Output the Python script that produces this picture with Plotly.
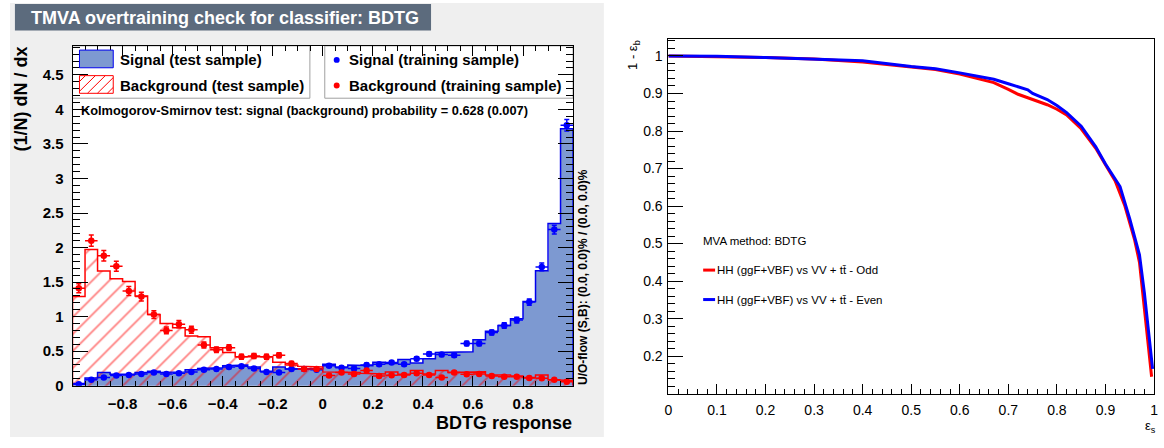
import numpy as np
import plotly.graph_objects as go

W, H = 1164, 448
FONT = "Liberation Sans, Arial, Helvetica, sans-serif"

# ---------------------------------------------------------------------------
# Classifier response histograms (normalised, (1/N) dN/dx)
# ---------------------------------------------------------------------------
resp_min, resp_max, n_bins = -1.0, 1.0, 40

sig_test = [0.03, 0.11, 0.19, 0.165, 0.165, 0.19, 0.21, 0.19, 0.20, 0.23,
            0.25, 0.26, 0.29, 0.30, 0.27, 0.21, 0.27, 0.24, 0.24, 0.25,
            0.31, 0.27, 0.30, 0.29, 0.34, 0.32, 0.38, 0.33, 0.39, 0.48,
            0.49, 0.49, 0.665, 0.79, 0.87, 0.97, 1.22, 1.665, 2.35, 3.72]

sig_train = [0.02, 0.085, 0.12, 0.146, 0.156, 0.17, 0.19, 0.17, 0.18, 0.20,
             0.23, 0.24, 0.27, 0.28, 0.25, 0.20, 0.19, 0.24, 0.24, 0.23,
             0.29, 0.26, 0.25, 0.30, 0.31, 0.335, 0.31, 0.39, 0.46, 0.45,
             0.44, 0.61, 0.61, 0.77, 0.87, 0.95, 1.21, 1.72, 2.26, 3.77]

bkg_test = [1.29, 1.97, 1.66, 1.55, 1.51, 1.30, 1.03, 0.90, 0.84, 0.72,
            0.71, 0.55, 0.48, 0.42, 0.42, 0.42, 0.34, 0.30, 0.28, 0.27,
            0.20, 0.20, 0.19, 0.18, 0.17, 0.20, 0.165, 0.22, 0.17, 0.22,
            0.19, 0.19, 0.20, 0.155, 0.155, 0.14, 0.12, 0.155, 0.085, 0.075]

bkg_train = [1.41, 2.10, 1.88, 1.73, 1.37, 1.29, 1.03, 0.80, 0.89, 0.81,
             0.59, 0.52, 0.55, 0.42, 0.43, 0.42, 0.44, 0.32, 0.24, 0.24,
             0.146, 0.19, 0.17, 0.22, 0.14, 0.15, 0.155, 0.18, 0.155, 0.12,
             0.19, 0.165, 0.17, 0.14, 0.13, 0.13, 0.113, 0.108, 0.085, 0.057]

# effective training-sample sizes, used for the Poisson error bars
n_sig_train = 11000
n_bkg_train = 6500

hist_x_ticks = [-0.8, -0.6, -0.4, -0.2, 0.0, 0.2, 0.4, 0.6, 0.8]
hist_y_ticks = [0, 0.5, 1, 1.5, 2, 2.5, 3, 3.5, 4, 4.5]

ks_text = "Kolmogorov-Smirnov test: signal (background) probability = 0.628 (0.007)"
flow_text = "U/O-flow (S,B): (0.0, 0.0)% / (0.0, 0.0)%"

# ---------------------------------------------------------------------------
# ROC curves: background rejection vs signal efficiency
# ---------------------------------------------------------------------------
roc_odd_eff = [0.0, 0.05, 0.1, 0.2, 0.3, 0.4, 0.5, 0.55, 0.6, 0.65, 0.67, 0.7,
               0.72, 0.75, 0.78, 0.8, 0.82, 0.85, 0.88, 0.9, 0.92, 0.94, 0.95,
               0.96, 0.97, 0.98, 0.99, 0.995]
roc_odd_rej = [1.0, 0.9995, 0.998, 0.996, 0.992, 0.984, 0.971, 0.964, 0.952,
               0.937, 0.929, 0.911, 0.898, 0.884, 0.870, 0.858, 0.843, 0.806,
               0.754, 0.71, 0.667, 0.60, 0.558, 0.51, 0.45, 0.33, 0.20, 0.145]

roc_even_eff = [0.0, 0.05, 0.1, 0.2, 0.3, 0.4, 0.5, 0.55, 0.6, 0.65, 0.67, 0.7,
                0.72, 0.74, 0.75, 0.78, 0.8, 0.82, 0.85, 0.88, 0.9, 0.915,
                0.93, 0.95, 0.97, 0.98, 0.99, 0.997]
roc_even_rej = [1.0, 1.0, 0.9995, 0.996, 0.992, 0.987, 0.972, 0.966, 0.955,
                0.944, 0.938, 0.926, 0.918, 0.910, 0.900, 0.884, 0.868, 0.849,
                0.813, 0.758, 0.712, 0.683, 0.652, 0.566, 0.47, 0.37, 0.25, 0.166]

roc_ticks_x = [0, 0.1, 0.2, 0.3, 0.4, 0.5, 0.6, 0.7, 0.8, 0.9, 1.0]
roc_ticks_y = [0.2, 0.3, 0.4, 0.5, 0.6, 0.7, 0.8, 0.9, 1.0]

label_odd = "HH (ggF+VBF) vs VV + tt\u0304 - Odd"
label_even = "HH (ggF+VBF) vs VV + tt\u0304 - Even"

SIG_FILL = "#7d99d1"
SIG_LINE = "#0000ee"
BKG_LINE = "#ff0000"


def fx(px):
    return px / W


def fy(py):
    return 1 - py / H


edges = np.linspace(resp_min, resp_max, n_bins + 1)
centers = 0.5 * (edges[:-1] + edges[1:])
bw = edges[1] - edges[0]


def step_outline(values):
    xs, ys = [edges[0]], [0.0]
    for i, v in enumerate(values):
        xs += [edges[i], edges[i + 1]]
        ys += [v, v]
    xs.append(edges[-1])
    ys.append(0.0)
    return xs, ys


def stat_err(values, n_events):
    v = np.asarray(values)
    return np.sqrt(v / (n_events * bw))


fig = go.Figure()

# signal test sample: filled histogram
fig.add_trace(go.Bar(x=centers, y=sig_test, width=bw, marker=dict(color=SIG_FILL, line=dict(width=0)),
                     xaxis="x", yaxis="y", hoverinfo="skip"))
sx, sy = step_outline(sig_test)
fig.add_trace(go.Scatter(x=sx, y=sy, mode="lines", line=dict(color=SIG_LINE, width=1.5),
                         xaxis="x", yaxis="y", hoverinfo="skip"))

# background test sample: hatched histogram
fig.add_trace(go.Bar(x=centers, y=bkg_test, width=bw,
                     marker=dict(color="rgba(0,0,0,0)", line=dict(width=0),
                                 pattern=dict(shape="/", fgcolor=BKG_LINE, bgcolor="rgba(0,0,0,0)",
                                              size=12, solidity=0.14)),
                     xaxis="x", yaxis="y", hoverinfo="skip"))
bx, by = step_outline(bkg_test)
fig.add_trace(go.Scatter(x=bx, y=by, mode="lines", line=dict(color=BKG_LINE, width=1.5),
                         xaxis="x", yaxis="y", hoverinfo="skip"))

# training samples: markers with error bars
for vals, n_ev, col in ((sig_train, n_sig_train, "#0000ff"), (bkg_train, n_bkg_train, "#ff0000")):
    fig.add_trace(go.Scatter(
        x=centers, y=vals, mode="markers",
        marker=dict(color=col, size=6.5, symbol="circle"),
        error_y=dict(type="data", array=stat_err(vals, n_ev), color=col, thickness=1.5, width=2.5),
        error_x=dict(type="constant", value=bw / 2, color=col, thickness=1.5, width=0),
        xaxis="x", yaxis="y", hoverinfo="skip"))

# ROC curves
fig.add_trace(go.Scatter(x=roc_odd_eff, y=roc_odd_rej, mode="lines",
                         line=dict(color="#ff0000", width=3), xaxis="x2", yaxis="y2"))
fig.add_trace(go.Scatter(x=roc_even_eff, y=roc_even_rej, mode="lines",
                         line=dict(color="#0000ff", width=3), xaxis="x2", yaxis="y2"))

# ---------------------------------------------------------------------------
# decorations
# ---------------------------------------------------------------------------
shapes = []
annotations = []


def rect(x0, y0, x1, y1, fill, line_color=None, lw=0, layer="below"):
    shapes.append(dict(type="rect", xref="paper", yref="paper",
                       x0=fx(x0), x1=fx(x1), y0=fy(y1), y1=fy(y0),
                       fillcolor=fill, layer=layer,
                       line=dict(color=line_color or fill, width=lw)))


def seg(x0, y0, x1, y1, color, lw, layer="above"):
    shapes.append(dict(type="line", xref="paper", yref="paper",
                       x0=fx(x0), x1=fx(x1), y0=fy(y0), y1=fy(y1),
                       layer=layer, line=dict(color=color, width=lw)))


def text(x, y, s, size, bold=False, color="black", xanchor="left", yanchor="middle", angle=0):
    annotations.append(dict(xref="paper", yref="paper", x=fx(x), y=fy(y), text=s,
                            showarrow=False, xanchor=xanchor, yanchor=yanchor, textangle=angle,
                            borderpad=0,
                            font=dict(family=FONT, size=size, color=color,
                                      weight="bold" if bold else "normal")))


# left canvas (grey) and white frame interior
rect(6, 3, 604, 445, "#efefef")
rect(69, 46.7, 573, 392.7, "#ffffff")

# title banner
rect(11, 4, 430, 31, "#5c6b7d", layer="above")
text(26, 18, "TMVA overtraining check for classifier: BDTG", 18, bold=True, color="white")

# legend boxes
rect(69, 46.7, 308, 100, "#ffffff", "#a0a0a0", 1)
rect(323, 46.7, 573, 100, "#ffffff", "#a0a0a0", 1)

# legend swatch: signal
rect(76, 51, 110, 69, SIG_FILL, SIG_LINE, 1, layer="above")
# legend swatch: background (hatched)
bx0, by0, bx1, by1 = 76, 77, 110, 95
rect(bx0, by0, bx1, by1, "rgba(255,255,255,1)", BKG_LINE, 1, layer="above")
for c in np.arange(bx0 + by0 + 6, bx1 + by1, 10.0):
    # line x + y = c clipped to the swatch
    pts = []
    for xx in (bx0, bx1):
        yy = c - xx
        if by0 <= yy <= by1:
            pts.append((xx, yy))
    for yy in (by0, by1):
        xx = c - yy
        if bx0 <= xx <= bx1:
            pts.append((xx, yy))
    if len(pts) >= 2:
        (ax, ay), (cx, cy) = pts[0], pts[-1]
        seg(ax, ay, cx, cy, BKG_LINE, 1)

text(116, 61, "Signal (test sample)", 15, bold=True)
text(116, 87, "Background (test sample)", 15, bold=True)

for yy, col in ((61, "#0000ff"), (87, "#ff0000")):
    shapes.append(dict(type="circle", xref="paper", yref="paper",
                       x0=fx(332), x1=fx(338), y0=fy(yy + 3), y1=fy(yy - 3),
                       fillcolor=col, line=dict(color=col, width=0), layer="above"))
text(346, 61, "Signal (training sample)", 15, bold=True)
text(346, 87, "Background (training sample)", 15, bold=True)

text(77, 113, ks_text, 12.8, bold=True)
text(583, 393, flow_text, 12, bold=True, xanchor="center", yanchor="bottom", angle=-90)

text(573, 431, "BDTG response", 18, bold=True, xanchor="right")
text(17, 46, "(1/N) dN / dx", 18, bold=True, xanchor="center", yanchor="top", angle=-90)

# ROC legend
text(703, 245, "MVA method: BDTG", 11.5)
seg(704, 275, 716, 275, "#ff0000", 3)
text(717, 275, label_odd, 11.5)
seg(704, 305, 716, 305, "#0000ff", 3)
text(717, 305, label_even, 11.5)

text(634, 40, "1 - \u03b5<sub>b</sub>", 13, xanchor="center", yanchor="top", angle=-90)
text(1161, 434, "\u03b5<sub>s</sub>", 13, xanchor="right")

bold_tick = dict(family=FONT, size=15, color="black", weight="bold")
norm_tick = dict(family=FONT, size=14, color="black")

fig.update_layout(
    width=W, height=H, autosize=False,
    margin=dict(l=0, r=0, t=0, b=0, pad=0),
    paper_bgcolor="white", plot_bgcolor="rgba(0,0,0,0)",
    showlegend=False, barmode="overlay", bargap=0,
    shapes=shapes, annotations=annotations,
    xaxis=dict(domain=[fx(69), fx(573)], range=[resp_min, resp_max], anchor="y",
               tickvals=hist_x_ticks, ticks="inside", ticklen=10, tickwidth=1, tickcolor="black",
               minor=dict(dtick=0.05, tick0=0, ticks="inside", ticklen=5, tickcolor="black"),
               showline=True, linecolor="black", linewidth=1, mirror="ticks",
               showgrid=False, zeroline=False, tickfont=bold_tick, ticklabelstandoff=4),
    yaxis=dict(domain=[fy(392.7), fy(46.7)], range=[0, 4.92], anchor="x",
               tickvals=hist_y_ticks, ticks="inside", ticklen=15, tickwidth=1, tickcolor="black",
               minor=dict(dtick=0.1, tick0=0, ticks="inside", ticklen=7, tickcolor="black"),
               showline=True, linecolor="black", linewidth=1, mirror="ticks",
               showgrid=False, zeroline=False, tickfont=bold_tick, ticklabelstandoff=5),
    xaxis2=dict(domain=[fx(669), fx(1158)], range=[0, 1], anchor="y2",
                tickvals=roc_ticks_x, ticks="inside", ticklen=10, tickwidth=1, tickcolor="black",
                minor=dict(dtick=0.02, tick0=0, ticks="inside", ticklen=5, tickcolor="black"),
                showline=True, linecolor="black", linewidth=1, mirror=True,
                showgrid=False, zeroline=False, tickfont=norm_tick, ticklabelstandoff=3),
    yaxis2=dict(domain=[fy(401), fy(40)], range=[0.0995, 1.0445], anchor="x2",
                tickvals=roc_ticks_y, ticks="inside", ticklen=15, tickwidth=1, tickcolor="black",
                minor=dict(dtick=0.02, tick0=0, ticks="inside", ticklen=7, tickcolor="black"),
                showline=True, linecolor="black", linewidth=1, mirror=True,
                showgrid=False, zeroline=False, tickfont=norm_tick, ticklabelstandoff=2),
)

fig.write_html("out.html", config=dict(displayModeBar=False))
